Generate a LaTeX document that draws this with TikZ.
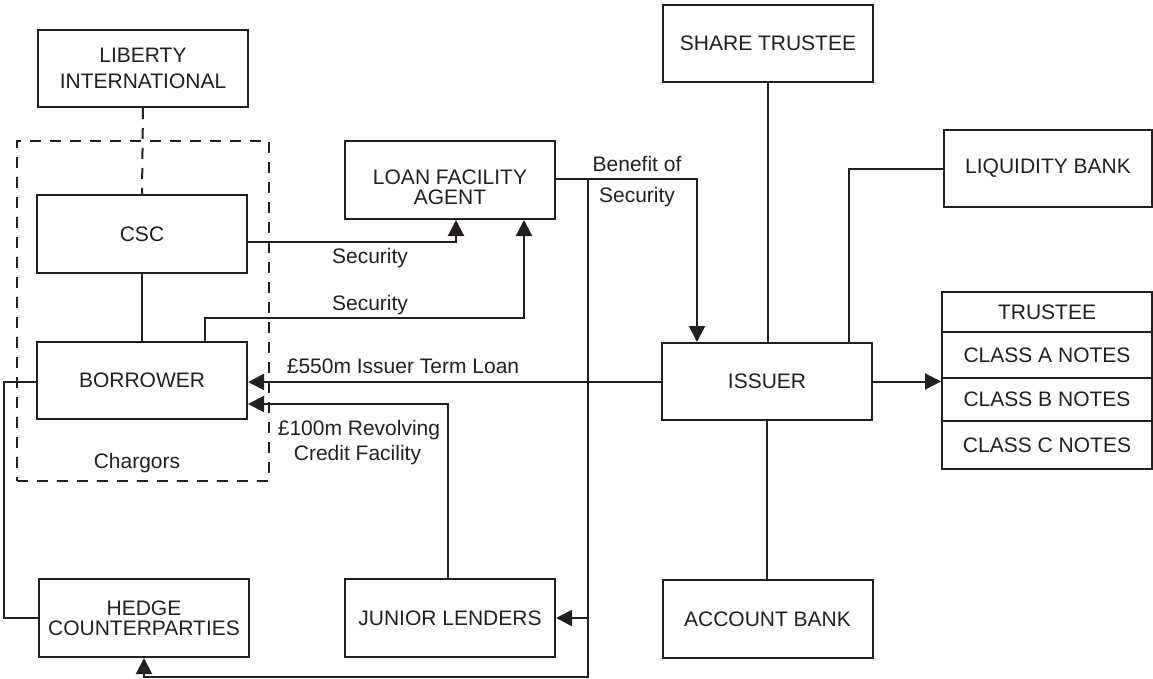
\documentclass[tikz,border=0pt]{standalone}
\usepackage{fontspec}
\setmainfont{Liberation Sans}
\usetikzlibrary{arrows.meta}
\definecolor{ink}{HTML}{231F20}
\begin{document}
\begin{tikzpicture}[x=1pt,y=-1pt,
  box/.style={draw=ink, line width=2pt, rectangle, inner sep=0pt, align=center, text=ink,
    font=\fontsize{21}{24}\selectfont, minimum width=210pt, minimum height=77pt},
  lbl/.style={inner sep=0pt, text=ink, font=\fontsize{21}{24}\selectfont, anchor=base},
  conn/.style={draw=ink, line width=2pt},
  arr/.style={conn, -{Triangle[length=16pt,width=16pt]}},
  dsh/.style={draw=ink, line width=2pt, dash pattern=on 11pt off 9pt}]
\useasboundingbox (0,0) rectangle (1153,679);

% dashed chargors group
\node[dsh, rectangle, minimum width=252pt, minimum height=340pt, inner sep=0pt] (chg) at (143,311) {};

% boxes
\node[box] (lib) at (143,68.5) {LIBERTY\\[2pt]INTERNATIONAL};
\node[box, minimum height=78pt] (csc) at (142,234) {CSC};
\node[box] (bor) at (142,380.5) {BORROWER};
\node[box, minimum height=78pt] (hed) at (144,618) {HEDGE\\[-4pt]COUNTERPARTIES};
\node[box, minimum height=78pt] (jun) at (450,618) {JUNIOR LENDERS};
\node[box, minimum height=78pt] (lfa) at (450,180) {};
\node[lbl, anchor=center, align=center] (lfat) at (450,187) {LOAN FACILITY\\[-4pt]AGENT};
\node[box] (sha) at (768,43.5) {SHARE TRUSTEE};
\node[box, minimum width=208pt] (liq) at (1048,168.5) {LIQUIDITY BANK};
\node[box] (iss) at (767,381.5) {ISSUER};
\node[box, minimum height=78pt] (acc) at (767.5,619) {ACCOUNT BANK};
\node[box, minimum height=40pt] (tru) at (1047,312) {TRUSTEE};
\node[box, minimum height=46pt] (cla) at (1047,355) {CLASS A NOTES};
\node[box, minimum height=43pt] (clb) at (1047,399.5) {CLASS B NOTES};
\node[box, minimum height=48pt] (clc) at (1047,445) {CLASS C NOTES};

% labels
\node[lbl] (chgt) at (137,468) {Chargors};
\node[lbl] (sec1) at (370,263) {Security};
\node[lbl] (sec2) at (370,310) {Security};
\node[lbl] (ben1) at (637,172) {Benefit of};
\node[lbl] (ben2) at (637,202) {Security};
\node[lbl] (tl) at (403,373) {£550m Issuer Term Loan};
\node[lbl] (rv1) at (359,435) {£100m Revolving};
\node[lbl] (rv2) at (357.5,460) {Credit Facility};

% bend points
\coordinate (c1) at (456,242);
\coordinate (c2) at (205,318);
\coordinate (c3) at (524,318);
\coordinate (c4) at (0,382);
\coordinate (c5) at (448,404);
\coordinate (c6) at (4,382);
\coordinate (c7) at (697,179);
\coordinate (c8) at (588,179);
\coordinate (c9) at (588,677);
\coordinate (c10) at (849,169);

% connectors
\draw[dsh] (lib.south) -- (csc.north);
\draw[conn] (csc.south) -- (bor.north);
\draw[arr] (csc.east |- c1) -- (c1) -- (c1 |- lfa.south);
\draw[arr] (c2 |- bor.north) -- (c2) -- (c3) -- (c3 |- lfa.south);
\draw[arr] (iss.west |- c4) -- (bor.east |- c4);
\draw[arr] (c5 |- jun.north) -- (c5) -- (bor.east |- c5);
\draw[conn] (bor.west |- c6) -- (c6) -- (c6 |- hed.west) -- (hed.west);
\draw[arr] (lfa.east |- c7) -- (c7) -- (c7 |- iss.north);
\draw[arr] (c8) -- (c9) -- (hed.south |- c9) -- (hed.south);
\draw[arr] (c8 |- jun.east) -- (jun.east);
\draw[conn] (sha.south) -- (sha.south |- iss.north);
\draw[conn] (liq.west |- c10) -- (c10) -- (c10 |- iss.north);
\draw[conn] (iss.south) -- (iss.south |- acc.north);
\draw[arr] (iss.east) -- (iss.east -| tru.west);
\end{tikzpicture}
\end{document}
